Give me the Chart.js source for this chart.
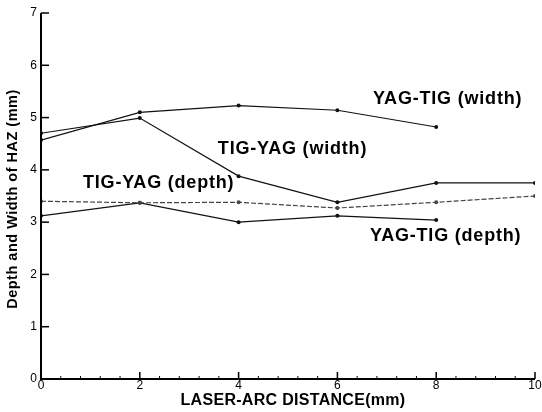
<!DOCTYPE html>
<html>
<head>
<meta charset="utf-8">
<script src="https://cdn.jsdelivr.net/npm/chart.js@4/dist/chart.umd.min.js"></script>
<style>
  html, body { margin: 0; padding: 0; background: #fff; }
  #wrap { width: 542px; height: 412px; }
</style>
</head>
<body>
<div id="wrap"><canvas id="grafico"></canvas></div>
<script>
  // Datos
  var distancias = [0, 2, 4, 6, 8, 10];
  var yagTigAncho = [4.57, 5.10, 5.23, 5.14, 4.82, null];
  var tigYagAncho = [4.70, 4.99, 3.88, 3.38, 3.75, 3.75];
  var tigYagProf = [3.40, 3.37, 3.38, 3.27, 3.38, 3.50];
  var yagTigProf = [3.12, 3.37, 3.00, 3.12, 3.04, null];

  var nombres = ['YAG-TIG (width)', 'TIG-YAG (width)', 'TIG-YAG (depth)', 'YAG-TIG (depth)'];
  var ticksY = [0, 1, 2, 3, 4, 5, 6, 7];
  var ticksX = [0, 2, 4, 6, 8, 10];

  // posiciones de las etiquetas en unidades de los datos
  var etiquetas = [
    { texto: nombres[0], x: 6.72, y: 5.36 },
    { texto: nombres[1], x: 3.58, y: 4.40 },
    { texto: nombres[2], x: 0.85, y: 3.75 },
    { texto: nombres[3], x: 6.66, y: 2.73 }
  ];

  function puntos(valores) {
    var res = [];
    for (var i = 0; i < distancias.length; i++) {
      if (valores[i] !== null) res.push({ x: distancias[i], y: valores[i] });
    }
    return res;
  }

  function serie(nombre, valores, dash, color) {
    return {
      label: nombre,
      data: puntos(valores),
      borderColor: color,
      backgroundColor: color,
      borderWidth: 1.2,
      borderDash: dash,
      pointRadius: 2,
      pointBorderWidth: 0,
      tension: 0
    };
  }

  // Plugin para ejes, marcas interiores, títulos y etiquetas
  var ejesPlugin = {
    id: 'ejes',
    afterDraw: function (chart) {
      var ctx = chart.ctx;
      var sx = chart.scales.x, sy = chart.scales.y;
      var x0 = sx.getPixelForValue(0), x1 = sx.getPixelForValue(10);
      var y0 = sy.getPixelForValue(0), y1 = sy.getPixelForValue(7);
      ctx.save();
      ctx.strokeStyle = '#000';
      ctx.lineWidth = 2;
      ctx.beginPath();
      ctx.moveTo(x0, y1);
      ctx.lineTo(x0, y0);
      ctx.lineTo(x1, y0);
      ctx.stroke();

      // marcas del eje y
      ctx.lineWidth = 1.5;
      ticksY.forEach(function (v) {
        var p = sy.getPixelForValue(v);
        ctx.beginPath();
        ctx.moveTo(x0, p);
        ctx.lineTo(x0 + 8, p);
        ctx.stroke();
      });
      // marcas del eje x (mayores y menores)
      for (var k = 0; k <= 25; k++) {
        var v = k * 0.4;
        var p = sx.getPixelForValue(v);
        var mayor = (k % 5 === 0);
        ctx.lineWidth = mayor ? 1.5 : 1;
        ctx.beginPath();
        ctx.moveTo(p, y0);
        ctx.lineTo(p, y0 - (mayor ? 7 : 3));
        ctx.stroke();
      }

      // números de los ejes
      ctx.fillStyle = '#000';
      ctx.font = '12px "Liberation Sans", Arial, sans-serif';
      ctx.textAlign = 'right';
      ctx.textBaseline = 'middle';
      ticksY.forEach(function (v) {
        ctx.fillText(String(v), x0 - 4, sy.getPixelForValue(v));
      });
      ctx.textAlign = 'center';
      ctx.textBaseline = 'top';
      ticksX.forEach(function (v) {
        ctx.fillText(String(v), sx.getPixelForValue(v), y0 + 1);
      });

      // títulos
      ctx.letterSpacing = '0.3px';
      ctx.font = 'bold 16px "Liberation Sans", Arial, sans-serif';
      ctx.textBaseline = 'middle';
      ctx.fillText('LASER-ARC DISTANCE(mm)', 293, 401);
      ctx.save();
      ctx.translate(13, 199);
      ctx.rotate(-Math.PI / 2);
      ctx.letterSpacing = '0.5px';
      ctx.font = 'bold 14.5px "Liberation Sans", Arial, sans-serif';
      ctx.fillText('Depth and Width of HAZ (mm)', 0, 0);
      ctx.restore();

      // etiquetas de las series
      ctx.letterSpacing = '0.8px';
      ctx.font = 'bold 18px "Liberation Sans", Arial, sans-serif';
      ctx.textAlign = 'left';
      ctx.textBaseline = 'middle';
      etiquetas.forEach(function (e) {
        ctx.fillText(e.texto, sx.getPixelForValue(e.x), sy.getPixelForValue(e.y));
      });
      ctx.restore();
    }
  };

  var config = {
    type: 'line',
    data: {
      datasets: [
        serie(nombres[0], yagTigAncho, [], '#111'),
        serie(nombres[1], tigYagAncho, [], '#111'),
        serie(nombres[2], tigYagProf, [5, 2], '#444'),
        serie(nombres[3], yagTigProf, [], '#111')
      ]
    },
    options: {
      responsive: false,
      animation: false,
      layout: { padding: { top: 13, right: 7, left: 0, bottom: 0 } },
      plugins: { legend: { display: false }, tooltip: { enabled: false } },
      scales: {
        x: {
          type: 'linear', min: 0, max: 10,
          grid: { display: false },
          border: { display: false },
          ticks: { display: false },
          afterFit: function (s) { s.height = 33; }
        },
        y: {
          type: 'linear', min: 0, max: 7,
          grid: { display: false },
          border: { display: false },
          ticks: { display: false },
          afterFit: function (s) { s.width = 41; }
        }
      }
    },
    plugins: [ejesPlugin]
  };

  var lienzo = document.getElementById('grafico');
  lienzo.width = 542;
  lienzo.height = 412;
  var grafico = new Chart(lienzo.getContext('2d'), config);
</script>
</body>
</html>
